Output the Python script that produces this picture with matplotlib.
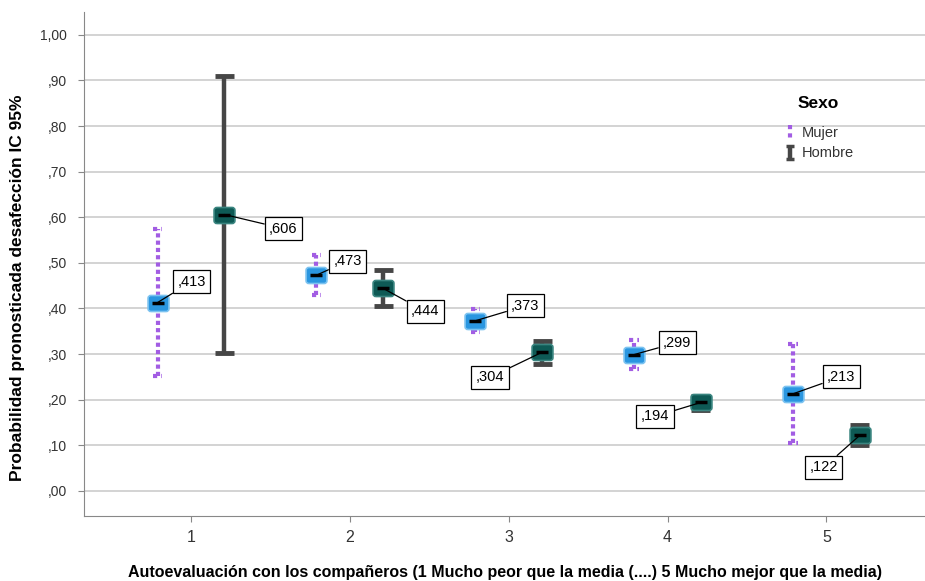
import numpy as np
import matplotlib.pyplot as plt
from matplotlib.path import Path

plt.rcParams['font.family'] = ['Liberation Sans', 'DejaVu Sans']

# Data
categories = [1, 2, 3, 4, 5]
mujer_mean = [0.413, 0.473, 0.373, 0.299, 0.213]
mujer_low = [0.252, 0.430, 0.349, 0.268, 0.105]
mujer_high = [0.575, 0.517, 0.399, 0.331, 0.322]
hombre_mean = [0.606, 0.444, 0.304, 0.194, 0.122]
hombre_low = [0.303, 0.406, 0.279, 0.178, 0.100]
hombre_high = [0.910, 0.485, 0.329, 0.208, 0.145]
yticks = [0.0, 0.1, 0.2, 0.3, 0.4, 0.5, 0.6, 0.7, 0.8, 0.9, 1.0]
ytick_labels = [',00', ',10', ',20', ',30', ',40', ',50', ',60', ',70', ',80', ',90', '1,00']

# label offsets in pixels (dx, dy) from each point
mujer_offsets = [(34, 21), (31, 14), (50, 15), (43, 12), (48, 17)]
hombre_offsets = [(59, -14), (42, -23), (-52, -25), (-46, -14), (-36, -32)]

purple = '#a25de3'
gray = '#464646'
blue = '#2a96e0'
teal = '#0e5a55'

W, H = 925, 581


def px(xp, yp):
    return xp / W, 1 - yp / H


# rounded wide rectangle marker
r = 0.35
box = [(-1.3 + r, -1), (1.3 - r, -1), (1.3, -1), (1.3, -1 + r), (1.3, 1 - r), (1.3, 1),
       (1.3 - r, 1), (-1.3 + r, 1), (-1.3, 1), (-1.3, 1 - r), (-1.3, -1 + r), (-1.3, -1),
       (-1.3 + r, -1)]
codes = [Path.MOVETO, Path.LINETO, Path.CURVE3, Path.CURVE3, Path.LINETO, Path.CURVE3,
         Path.CURVE3, Path.LINETO, Path.CURVE3, Path.CURVE3, Path.LINETO, Path.CURVE3,
         Path.CURVE3]
rbox = Path(box, codes)

fig = plt.figure(figsize=(9.25, 5.81), dpi=100)
ax = fig.add_axes([84 / W, 65 / H, 841 / W, 504 / H])

x = np.array(categories, dtype=float)
xm = x - 0.21
xh = x + 0.21

dot = (0, (1, 0.75))
for i in range(len(categories)):
    # Mujer: dotted purple interval
    ax.plot([xm[i], xm[i]], [mujer_low[i], mujer_high[i]], color=purple,
            lw=3, linestyle=dot, zorder=2)
    for yy in (mujer_low[i], mujer_high[i]):
        ax.plot([xm[i] - 0.03, xm[i] + 0.03], [yy, yy], color=purple,
                lw=3, linestyle=(0, (1, 1)), zorder=2)
    # Hombre: solid gray interval with caps
    ax.plot([xh[i], xh[i]], [hombre_low[i], hombre_high[i]], color=gray,
            lw=3.2, solid_capstyle='butt', zorder=2)
    for yy in (hombre_low[i], hombre_high[i]):
        ax.plot([xh[i] - 0.06, xh[i] + 0.06], [yy, yy], color=gray,
                lw=3.5, solid_capstyle='butt', zorder=2)

ax.plot(xm, mujer_mean, linestyle='none', marker=rbox, markersize=15,
        markerfacecolor=blue, markeredgecolor='#7cc3f0', markeredgewidth=1.2, zorder=3)
ax.plot(xh, hombre_mean, linestyle='none', marker=rbox, markersize=15,
        markerfacecolor=teal, markeredgecolor='#3a8580', markeredgewidth=1.2, zorder=3)
ax.plot(xm, mujer_mean, linestyle='none', marker='_', markersize=9,
        markeredgewidth=2.5, color='black', zorder=4)
ax.plot(xh, hombre_mean, linestyle='none', marker='_', markersize=9,
        markeredgewidth=2.5, color='black', zorder=4)

bbox = dict(boxstyle='square,pad=0.3', fc='white', ec='black', lw=0.9)
arrow = dict(arrowstyle='-', color='black', lw=0.9, shrinkA=0, shrinkB=0)
for xs, means, offs in ((xm, mujer_mean, mujer_offsets), (xh, hombre_mean, hombre_offsets)):
    for xi, yi, (dx, dy) in zip(xs, means, offs):
        ax.annotate((',%03d' % round(yi * 1000)), xy=(xi, yi), xytext=(dx, dy),
                    textcoords='offset pixels', ha='center', va='center',
                    fontsize=10.5, bbox=bbox, arrowprops=arrow, zorder=5)

ax.set_xlim(0.327, 5.62)
ax.set_ylim(-0.055, 1.05)
ax.set_yticks(yticks)
ax.set_yticklabels(ytick_labels, fontsize=10, color='#333333')
ax.set_xticks(categories)
ax.set_xticklabels([str(c) for c in categories], fontsize=11.5, color='#333333')
ax.tick_params(axis='x', length=4, color='#888888', pad=6)
ax.tick_params(axis='y', length=4, color='#888888', pad=8)
ax.grid(axis='y', color='#cccccc', lw=1.2)
ax.set_axisbelow(True)
for s in ('top', 'right'):
    ax.spines[s].set_visible(False)
for s in ('left', 'bottom'):
    ax.spines[s].set_color('#888888')

fig.text(*px(18, 288), 'Probabilidad pronosticada desafección IC 95%', rotation=90,
         ha='center', va='center', fontsize=12.5, fontweight='bold')
fig.text(*px(505, 572),
         'Autoevaluación con los compañeros (1 Mucho peor que la media (....) 5 Mucho mejor que la media)',
         ha='center', va='center', fontsize=11.5, fontweight='bold')

# legend drawn by hand
fig.text(*px(798, 103), 'Sexo', ha='left', va='center', fontsize=12.5, fontweight='bold')
fig.text(*px(802, 133), 'Mujer', ha='left', va='center', fontsize=10.5, color='#333333')
fig.text(*px(802, 153), 'Hombre', ha='left', va='center', fontsize=10.5, color='#333333')
fig.add_artist(plt.Line2D([px(790, 0)[0]] * 2, [px(0, 125)[1], px(0, 141)[1]],
                          color=purple, lw=3, linestyle=(0, (1, 1))))
fig.add_artist(plt.Line2D([px(790, 0)[0]] * 2, [px(0, 145)[1], px(0, 160)[1]],
                          color=gray, lw=3.2, solid_capstyle='butt'))
for yp in (146, 159):
    fig.add_artist(plt.Line2D([px(786, 0)[0], px(794, 0)[0]], [px(0, yp)[1]] * 2,
                              color=gray, lw=2.5, solid_capstyle='butt'))

fig.savefig('out.png', dpi=100)
